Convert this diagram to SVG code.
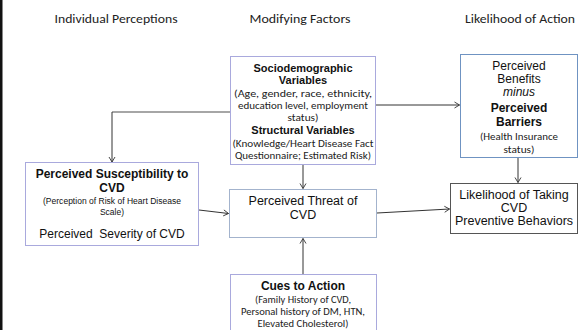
<svg xmlns="http://www.w3.org/2000/svg" width="581" height="330" viewBox="0 0 581 330">
<defs>
<marker id="arr" markerWidth="8" markerHeight="8" refX="6" refY="4" orient="auto" markerUnits="userSpaceOnUse">
<path d="M1,1 L6,4 L1,7" fill="none" stroke="#333" stroke-width="0.9"/>
</marker>
<style>
.hd{font-family:Carlito,"Open Sans",sans-serif;font-size:13px;fill:#222;text-anchor:middle}
.cal{font-family:Carlito,"Open Sans",sans-serif;font-size:10px;fill:#222;text-anchor:middle}
.ar{font-family:"Liberation Sans",Arial,sans-serif;font-size:12px;fill:#111;text-anchor:middle}
.arb{font-family:"Liberation Sans",Arial,sans-serif;font-size:12px;font-weight:bold;fill:#111;text-anchor:middle}
.box{fill:#fff;stroke-width:1}
.lav{stroke:#a9a9dd}
.con{fill:none;stroke:#333;stroke-width:1}
</style>
</defs>
<rect x="0" y="0" width="581" height="330" fill="#fff"/>
<rect x="0" y="0" width="2.5" height="330" fill="#111"/>

<g id="headers">
<text class="hd" x="116" y="23" textLength="123" lengthAdjust="spacingAndGlyphs">Individual Perceptions</text>
<text class="hd" x="300" y="23" textLength="101" lengthAdjust="spacingAndGlyphs">Modifying Factors</text>
<text class="hd" x="520" y="23" textLength="110" lengthAdjust="spacingAndGlyphs">Likelihood of Action</text>
</g>

<g id="connectors">
<polyline points="230,112 112,112" fill="none" stroke="#888" stroke-width="1.6"/>
<polyline class="con" points="112,112 112,162" marker-end="url(#arr)"/>
<line class="con" x1="303" y1="165" x2="303" y2="188.5" marker-end="url(#arr)"/>
<line class="con" x1="376" y1="105" x2="459.5" y2="105" marker-end="url(#arr)"/>
<line class="con" x1="518" y1="158" x2="518" y2="182.5" marker-end="url(#arr)"/>
<line class="con" x1="199" y1="210" x2="228.5" y2="213.5" marker-end="url(#arr)"/>
<line class="con" x1="377" y1="213" x2="449.5" y2="209" marker-end="url(#arr)"/>
<line class="con" x1="303" y1="274" x2="303" y2="238.5" marker-end="url(#arr)"/>
</g>

<g id="socio">
<rect class="box lav" x="230.5" y="56.5" width="145" height="108"/>
<text class="arb" x="303" y="72" style="font-size:11px">Sociodemographic</text>
<text class="arb" x="303" y="84" style="font-size:11px">Variables</text>
<text class="cal" x="303" y="97" textLength="138" lengthAdjust="spacingAndGlyphs">(Age, gender, race, ethnicity,</text>
<text class="cal" x="303" y="109" textLength="130" lengthAdjust="spacingAndGlyphs">education level, employment</text>
<text class="cal" x="303" y="121" textLength="31" lengthAdjust="spacingAndGlyphs">status)</text>
<text class="arb" x="303" y="134" style="font-size:11px">Structural Variables</text>
<text class="cal" x="303" y="147" textLength="141" lengthAdjust="spacingAndGlyphs">(Knowledge/Heart Disease Fact</text>
<text class="cal" x="303" y="159" textLength="136" lengthAdjust="spacingAndGlyphs">Questionnaire; Estimated Risk)</text>
</g>

<g id="benefits">
<rect class="box" stroke="#6f93c2" x="460.5" y="54.5" width="117" height="103"/>
<text class="ar" x="519" y="70">Perceived</text>
<text class="ar" x="519" y="83">Benefits</text>
<text class="ar" x="519" y="96" font-style="italic">minus</text>
<text class="arb" x="519" y="112">Perceived</text>
<text class="arb" x="519" y="126">Barriers</text>
<text class="cal" x="519" y="140" textLength="78" lengthAdjust="spacingAndGlyphs">(Health Insurance</text>
<text class="cal" x="519" y="153" textLength="31" lengthAdjust="spacingAndGlyphs">status)</text>
</g>

<g id="susceptibility">
<rect class="box lav" x="25.5" y="162.5" width="173" height="83"/>
<text class="arb" x="112" y="178">Perceived Susceptibility to</text>
<text class="arb" x="112" y="192">CVD</text>
<text class="ar" x="112" y="204" style="font-size:8.5px" textLength="138" lengthAdjust="spacingAndGlyphs">(Perception of Risk of Heart Disease</text>
<text class="ar" x="112" y="215" style="font-size:8.5px">Scale)</text>
<text class="ar" x="112" y="238" xml:space="preserve">Perceived  Severity of CVD</text>
</g>

<g id="threat">
<rect class="box" stroke="#a3b3cd" x="229.5" y="189.5" width="147" height="48"/>
<text class="ar" x="303" y="205" style="font-size:12.5px">Perceived Threat of</text>
<text class="ar" x="303" y="219" style="font-size:12.5px">CVD</text>
</g>

<g id="likelihood">
<rect class="box" stroke="#555" x="450.5" y="183.5" width="127" height="50"/>
<text class="ar" x="514" y="199" style="font-size:12.5px">Likelihood of Taking</text>
<text class="ar" x="514" y="212" style="font-size:12.5px">CVD</text>
<text class="ar" x="514" y="225" style="font-size:12.5px">Preventive Behaviors</text>
</g>

<g id="cues">
<rect class="box lav" x="230.5" y="274.5" width="146" height="56"/>
<text class="arb" x="303" y="290">Cues to Action</text>
<text class="cal" x="303" y="303" textLength="96" lengthAdjust="spacingAndGlyphs">(Family History of CVD,</text>
<text class="cal" x="303" y="315" textLength="124" lengthAdjust="spacingAndGlyphs">Personal history of DM, HTN,</text>
<text class="cal" x="303" y="327" textLength="91" lengthAdjust="spacingAndGlyphs">Elevated Cholesterol)</text>
</g>
</svg>
